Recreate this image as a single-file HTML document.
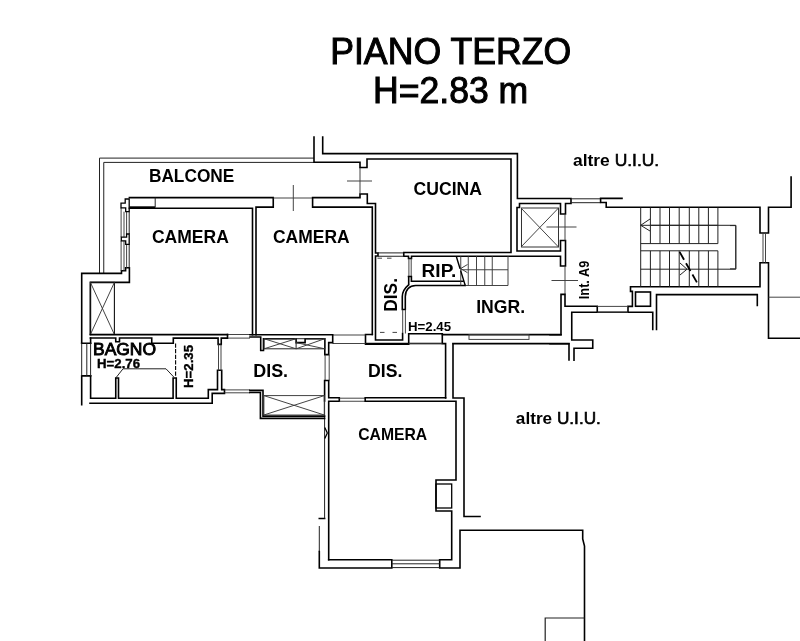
<!DOCTYPE html>
<html><head><meta charset="utf-8">
<style>
html,body{margin:0;padding:0;background:#fff;}
body{width:800px;height:641px;overflow:hidden;}
svg{display:block;will-change:transform;}
.w{fill:none;stroke:#000;stroke-width:1.6;stroke-linejoin:miter;stroke-linecap:square;}
.t{fill:none;stroke:#222;stroke-width:1;}
.g{fill:none;stroke:#3a3a3a;stroke-width:0.95;}
text{font-family:"Liberation Sans",sans-serif;fill:#000;}
.b{font-weight:bold;}
</style></head>
<body>
<svg width="800" height="641" viewBox="0 0 800 641">
<!-- ===== balcony railing ===== -->
<path class="t" d="M99.5,273.4 V158.1 H314 M103.75,273.4 V162.4 H314"/>

<!-- ===== west wall camera 1 ===== -->
<path class="w" d="M81.7,343.3 V273.4 H121.5 V270.75 H125.6 V267.75 H129.4 V282.4 H90.4 V334.5"/>
<path class="g" d="M121.1,207.9 V237.2 M121.1,240.8 V270.75 M124,211.7 V237.2 M124,240.8 V270.75 M126.6,211.7 V234 M126.6,244.4 V267.75"/>
<path class="t" d="M129.2,211.7 V234 M129.2,244.4 V267.75"/>
<path d="M125.2,199 H129.2 V211.7 H125.7 V207.9 H121 V203.2 H125.2 Z M126.6,234 H129.2 V244.4 H125.7 V240.8 H121.3 V237.2 H126.6 Z" fill="none" stroke="#000" stroke-width="1.3"/>
<!-- camera 1 top -->
<path class="w" d="M129.4,197.6 H273.25 V207.1 H256 V334.6 M252.5,334.6 V208.2 H129.4"/>
<path d="M129.4,207.6 H155.2" stroke="#000" stroke-width="2.6"/>
<path class="t" d="M155.2,197.6 V207.6"/>
<!-- balcony door camera 2 -->
<path class="g" d="M273.25,198 H312.6 M293.3,185 V211"/>
<path class="w" d="M312.6,197.6 V207.1 H372.3 V334.5 M312.6,197.6 H360 V194 H367.3 V203.5 H375.5 V253 H378 V256 H375.5 V340 H402.6 V333.5"/>
<path class="g" d="M360,167.5 V194 M347,181 H372"/>

<!-- ===== north walls / kitchen / elevator ===== -->
<path class="w" d="M314,137 V162.3 H360 V167.5 H367 V159 H511 V252.5 H403.75 V256.25 H408.5 V258.5 H411.5 V256.25 H560.5 V266 H565.5 V240.5 H560.5 V251 H517 V207.5 H519.5 V203.5 H560.5 V214 H565.5 V203.5 H571 V198.5 H517.4 V153.6 H322.7 V137"/>
<rect x="521.5" y="208" width="37" height="39" fill="none" stroke="#333" stroke-width="1"/>
<path class="g" d="M521,208 L558.5,247 M558.5,208 L521,247"/>
<path class="t" d="M571,198.8 H600.6 M571,202.7 H600.6"/>
<path class="g" d="M565,214 V240.5 M546.5,227 H576.5 M565,266 V294.5 M551.5,280.5 H578"/>
<!-- DIS top thin lines -->
<path d="M377.5,258.2 H382 M387,258.2 H391.5 M380,332.4 H384.5 M392.5,332.4 H397" stroke="#444" stroke-width="1" fill="none"/>
<path class="t" d="M378,252.9 H403.75 M378,256.25 H403.75"/>

<!-- ===== RIP ===== -->
<path class="g" d="M408.9,258.5 V276.5 M411.2,258.5 V276.5"/>
<path class="w" d="M408.7,276.5 V284 M408.5,276.5 H411.4 V281.3 H463"/>
<path class="w" d="M402.3,309.5 V296.5 C402.3,291.5 405,287.8 408.6,284.8 M405.3,309.5 V296.5 C405.3,290 409.5,285.5 415.7,285.5 H465.25 M402.3,309.5 H405.3"/>
<path class="g" d="M402.7,309.7 V333 M405.4,309.7 V333.5"/>
<path class="g" d="M460.75,256.25 V285.5 M468.25,256.25 V285.5 M476.5,256.25 V285.5 M484.75,256.25 V285.5 M492.25,256.25 V285.5 M508,256.25 V285.5 M460.75,269.75 H508 M465.25,285.5 H508 M467.5,264.5 L460.75,268.5 L467.5,272.75"/>
<path d="M456.25,256.25 L465.25,285.5" stroke="#000" stroke-width="1.4" stroke-dasharray="13,2,20" fill="none"/>

<!-- ===== DIS corridor bottom ===== -->
<path class="w" d="M372.3,334.5 H365.5 V344.2 H408.7 V333.7 H442.3 V343.6 H445.6 V398 M365.5,334.5 V343.5 H445.6"/>
<path class="g" d="M332.5,335 H365.5 M332.5,343.5 H365.5 M408.7,343.6 H442.3"/>
<!-- INGR bottom -->
<path class="w" d="M442.5,334.6 H561 V294.4 H565 V306.25 H597.25 V312.25 M452.9,343.6 H569 V360 M453,343.6 V398 H464 V516.5 H480"/>
<rect class="g" x="469" y="334.6" width="60" height="4.8"/>
<path class="w" d="M561,334.75 H550 M550,343.75 H568.75 M571.75,312.25 H652.75 V329.5 M571.75,312.25 V340 H592.75 V348.25 H574 V360.25"/>

<!-- ===== top right ===== -->
<path class="w" d="M600.6,198.4 H622 M600.6,198.4 V202.5 H606.2 V207.3 H760 V233 H768.5 V207.3 H791.1 V177"/>
<path class="w" d="M760,262.7 H768.5 V338.3 H800 M760,262.7 V286.8 H630.5 V291.4 H632.4 V306.4 H628 V312.25"/>
<path class="g" d="M597.25,306.4 H628 M597.25,312.25 H628 M763,233 V262.7 M765.5,233 V262.7"/>
<path class="g" d="M768.5,297.2 H800"/>
<rect class="w" x="635.5" y="292" width="15" height="14.25"/>
<path class="w" d="M656.5,329.5 V294.6 H757.3 V305.4"/>
<path class="g" d="M730,225.6 H735.8 V268.8 H730"/>

<!-- ===== stairs ===== -->
<path class="t" d="M640.7,207.5 V286.8 M650.4,207.5 V243.6 M660,207.5 V243.6 M669.5,207.5 V243.6 M679.2,207.5 V243.6 M689.3,207.5 V243.6 M698.8,207.5 V243.6 M708.4,207.5 V243.6 M717.9,207.5 V243.6
M650.4,250.8 V286.8 M660,250.8 V286.8 M669.5,250.8 V286.8 M679.2,250.8 V286.8 M689.3,250.8 V286.8 M698.8,250.8 V286.8 M708.4,250.8 V286.8 M717.9,250.8 V286.8
M640.7,243.6 H717.9 M640.7,250.8 H717.9 M650.4,225.3 H735.8 V269.2 H640.7 M717.9,225.3 H640.7 M650,219 L640.7,225.3 L650,231 M680,263 L687,269.2 L680,275"/>
<path d="M679.6,251.9 L698.75,285.6" stroke="#000" stroke-width="1.8" stroke-dasharray="9,4" fill="none"/>

<!-- ===== lift-shaft box west ===== -->
<rect x="90.4" y="282.4" width="24" height="52.1" fill="none" stroke="#111" stroke-width="1.1"/>
<path class="g" d="M90.4,282.4 L114.4,334.5 M114.4,282.4 L90.4,334.5"/>

<!-- ===== bathroom ===== -->
<path class="w" d="M90.4,334.6 H227.5"/>
<path class="g" d="M227.5,334.5 H250 M227.5,338.1 H250"/>
<path class="w" d="M90.4,338 H115.75 V341.75 H119.5 V338 H151.75 V343.25 H173.3 V338.1 H218.1 V344.4 H221.25 V338.1 H227.5 V334.5"/>
<path class="w" d="M90.6,338 V343.3 M90.6,375.9 V398.3 H115.75 V378 H118.5 V398.3 H173.1 V378 H176.25 V398.3 H208.3 V389.6 H217.5 V370.3 H221.7 V389.6 H224.5 V393.4 H212.2 V403.2 H90"/>
<path class="w" d="M81.7,343.3 H90.6 M81.7,375.9 H90.6 M81.7,375.9 V404.6"/>
<path class="t" d="M81.7,343.3 V375.9 M86.8,343.3 V375.9 M90.6,343.3 V375.9"/>
<path class="g" d="M218.5,344.4 V370.6 M221,344.4 V370.6 M224.5,389.9 H250 M224.5,392.8 H250"/>

<path class="t" d="M115.75,378 L123,368.8 H166 L173.75,377"/>
<path d="M175.6,343.5 V377" stroke="#000" stroke-width="1.1" stroke-dasharray="4.2,1.4" fill="none"/>

<!-- ===== DIS 1 ===== -->
<path class="w" d="M250,334.75 H332.7 V342.6 H328.7 V354.6 H324.8 V338.7 H305.1 V342.6 H296.1 V338.7 H263.5 V350.5 H260.7 V337 H250"/>
<rect class="t" x="264" y="338.7" width="60.8" height="10.1"/>
<path class="t" d="M296.1,342.6 V348.8"/>
<path class="g" d="M264,338.7 L296.1,348.8 M296.1,338.7 L264,348.8 M296.1,342.6 L324.8,348.8 M324.8,338.7 L296.1,348.8"/>
<path class="g" d="M325.1,354.6 V380.5 M329.2,354.6 V380.5"/>
<path class="w" d="M324.6,380.5 H328.7 V397.7 H339.3 V401.25 H328.7 V559.7 M324.6,380.5 V401 M324.6,518.5 H319.3"/>
<path class="t" d="M324.6,401 V518.5 M319.3,526 V551.6"/>
<path d="M324.8,427.5 L327.3,433 L324.8,438.5" fill="none" stroke="#000" stroke-width="1.3"/>
<path class="w" d="M249.9,390.4 H263 V416.1 H324.6 M249.9,392.5 H260.4 V418.4 H324.6"/>
<rect class="g" x="263.9" y="395.6" width="60.35" height="19.4"/>
<path class="g" d="M263.9,395.6 L324.25,415 M324.25,395.6 L263.9,415"/>
<!-- ===== DIS 2 / camera 3 ===== -->
<path class="g" d="M339.3,398.2 H365.2 M339.3,401.25 H365.2"/>
<path class="w" d="M365.2,397.7 H445.6 M365.2,397.7 V401.25 H456 V480 H436 V511 H451.7 V559.7 H439.7 M391,559.7 H328.7"/>
<path class="w" d="M319.3,551.6 V568 H391.8 V559.7 M439.7,559.7 V568 M439.7,568 H460 V530.25 H582.7 V539 L584.5,546 V641"/>
<path class="t" d="M391.8,560.2 H439.7 M391.8,563.8 H439.7 M391.8,567.6 H439.7"/>
<rect class="w" x="436" y="484" width="15.7" height="24" style="stroke-width:1.3"/>
<path d="M545.2,641 V618 H584.5" fill="none" stroke="#222" stroke-width="1.2"/>


<!-- ===== labels ===== -->
<text x="330.17" y="63.95" font-size="36.09" textLength="241.16" lengthAdjust="spacingAndGlyphs" stroke="#000" stroke-width="1.0">PIANO TERZO</text>
<text x="372.97" y="103.30" font-size="36.52" textLength="155.28" lengthAdjust="spacingAndGlyphs" stroke="#000" stroke-width="1.0">H=2.83 m</text>
<text class="b" x="148.91" y="181.80" font-size="18.18" textLength="85.47" lengthAdjust="spacingAndGlyphs">BALCONE</text>
<text class="b" x="151.91" y="243.10" font-size="18.94" textLength="76.99" lengthAdjust="spacingAndGlyphs">CAMERA</text>
<text class="b" x="272.96" y="243.10" font-size="18.03" textLength="76.66" lengthAdjust="spacingAndGlyphs">CAMERA</text>
<text class="b" x="413.59" y="194.50" font-size="18.31" textLength="68.44" lengthAdjust="spacingAndGlyphs">CUCINA</text>
<text class="b" x="421.63" y="276.85" font-size="18.07" textLength="34.57" lengthAdjust="spacingAndGlyphs">RIP.</text>
<text class="b" x="476.20" y="312.70" font-size="19.07" textLength="48.94" lengthAdjust="spacingAndGlyphs">INGR.</text>
<text class="b" x="407.99" y="331.05" font-size="13.61" textLength="43.13" lengthAdjust="spacingAndGlyphs">H=2.45</text>
<text x="93.04" y="355.40" font-size="16.56" textLength="62.96" lengthAdjust="spacingAndGlyphs" stroke="#000" stroke-width="0.9">BAGNO</text>
<text class="b" x="96.99" y="367.95" font-size="11.91" textLength="43.10" lengthAdjust="spacingAndGlyphs" stroke="#000" stroke-width="0.35">H=2.76</text>
<text class="b" x="253.24" y="377.15" font-size="18.43" textLength="34.83" lengthAdjust="spacingAndGlyphs">DIS.</text>
<text class="b" x="368.09" y="377.15" font-size="18.31" textLength="34.34" lengthAdjust="spacingAndGlyphs">DIS.</text>
<text class="b" x="358.20" y="439.50" font-size="16.33" textLength="69.01" lengthAdjust="spacingAndGlyphs">CAMERA</text>
<text class="b" x="572.99" y="165.95" font-size="17.40" textLength="86.19" lengthAdjust="spacingAndGlyphs">altre<tspan font-weight="normal" stroke="#000" stroke-width="0.6"> U.I.U.</tspan></text>
<text class="b" x="515.89" y="423.95" font-size="16.30" textLength="84.96" lengthAdjust="spacingAndGlyphs">altre<tspan font-weight="normal" stroke="#000" stroke-width="0.6"> U.I.U.</tspan></text>
<text class="b" transform="translate(396.60,311.70) rotate(-90)" font-size="17.62" textLength="33.64" lengthAdjust="spacingAndGlyphs">DIS.</text>
<text class="b" transform="translate(588.50,299.20) rotate(-90)" font-size="13.78" textLength="38.48" lengthAdjust="spacingAndGlyphs">Int. A9</text>
<text class="b" transform="translate(192.80,387.95) rotate(-90)" font-size="13.50" textLength="42.97" lengthAdjust="spacingAndGlyphs" stroke="#000" stroke-width="0.35">H=2.35</text>
</svg>
</body></html>
